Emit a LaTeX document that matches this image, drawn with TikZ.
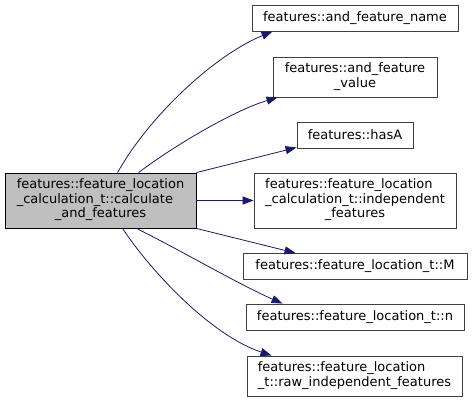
\documentclass[tikz,border=0pt]{standalone}
\usepackage{fontspec}
\setmainfont{DejaVu Sans}
\usetikzlibrary{arrows.meta}
\definecolor{edgeblue}{RGB}{25,25,112}
\definecolor{boxborder}{RGB}{64,64,64}
\definecolor{mainfill}{RGB}{191,191,191}
\newcommand{\lines}[2]{\begin{tabular}{@{}l@{}}#1\\\multicolumn{1}{@{}c@{}}{#2}\end{tabular}}
\newcommand{\linesiii}[3]{\begin{tabular}{@{}l@{}}#1\\#2\\\multicolumn{1}{@{}c@{}}{#3}\end{tabular}}
\begin{document}
\begin{tikzpicture}[x=1pt,y=-1pt,
  box/.style={draw=boxborder,line width=0.9pt,fill=white,inner sep=0pt,
    font=\fontsize{13}{14.5}\selectfont,text=black},
  mainbox/.style={box,draw=black,fill=mainfill},
  edge/.style={draw=edgeblue,line width=0.8pt,-{Triangle[length=11pt,width=8pt]}}]
\useasboundingbox (0,0) rectangle (472,402);
\renewcommand{\arraystretch}{1}
\node[mainbox,minimum width=191pt,minimum height=55pt] (main) at (100.5,200.5)
  {\linesiii{features::feature\_location}{\_calculation\_t::calculate}{\_and\_features}};
\node[box,minimum width=206pt,minimum height=26pt] (b1) at (355,18) {features::and\_feature\_name};
\node[box,minimum width=164pt,minimum height=40pt] (b2) at (355,77) {\lines{features::and\_feature}{\_value}};
\node[box,minimum width=116pt,minimum height=26pt] (b3) at (355,135) {features::hasA};
\node[box,minimum width=202pt,minimum height=55pt] (b4) at (355,200.5)
  {\linesiii{features::feature\_location}{\_calculation\_t::independent}{\_features}};
\node[box,minimum width=224pt,minimum height=26pt] (b5) at (355,266.5) {features::feature\_location\_t::M};
\node[box,minimum width=218pt,minimum height=26pt] (b6) at (355,317) {features::feature\_location\_t::n};
\node[box,minimum width=215pt,minimum height=40pt] (b7) at (354.5,376)
  {\lines{features::feature\_location}{\_t::raw\_independent\_features}};
\draw[edge] ([xshift=113pt]main.north west) .. controls (150,115) and (215,55) .. ([xshift=21pt]b1.south west);
\draw[edge] ([xshift=134pt]main.north west) .. controls (175,145) and (235,110) .. ([xshift=5pt]b2.south west);
\draw[edge] (main.north east) -- ([yshift=1pt]b3.south west);
\draw[edge] (main.east) -- (b4.west);
\draw[edge] (main.south east) -- ([xshift=53pt]b5.north west);
\draw[edge] ([xshift=132pt]main.south west) .. controls (180,250) and (240,285) .. ([xshift=37pt]b6.north west);
\draw[edge] ([xshift=118pt]main.south west) .. controls (150,270) and (210,335) .. ([xshift=25pt]b7.north west);
\end{tikzpicture}
\end{document}
